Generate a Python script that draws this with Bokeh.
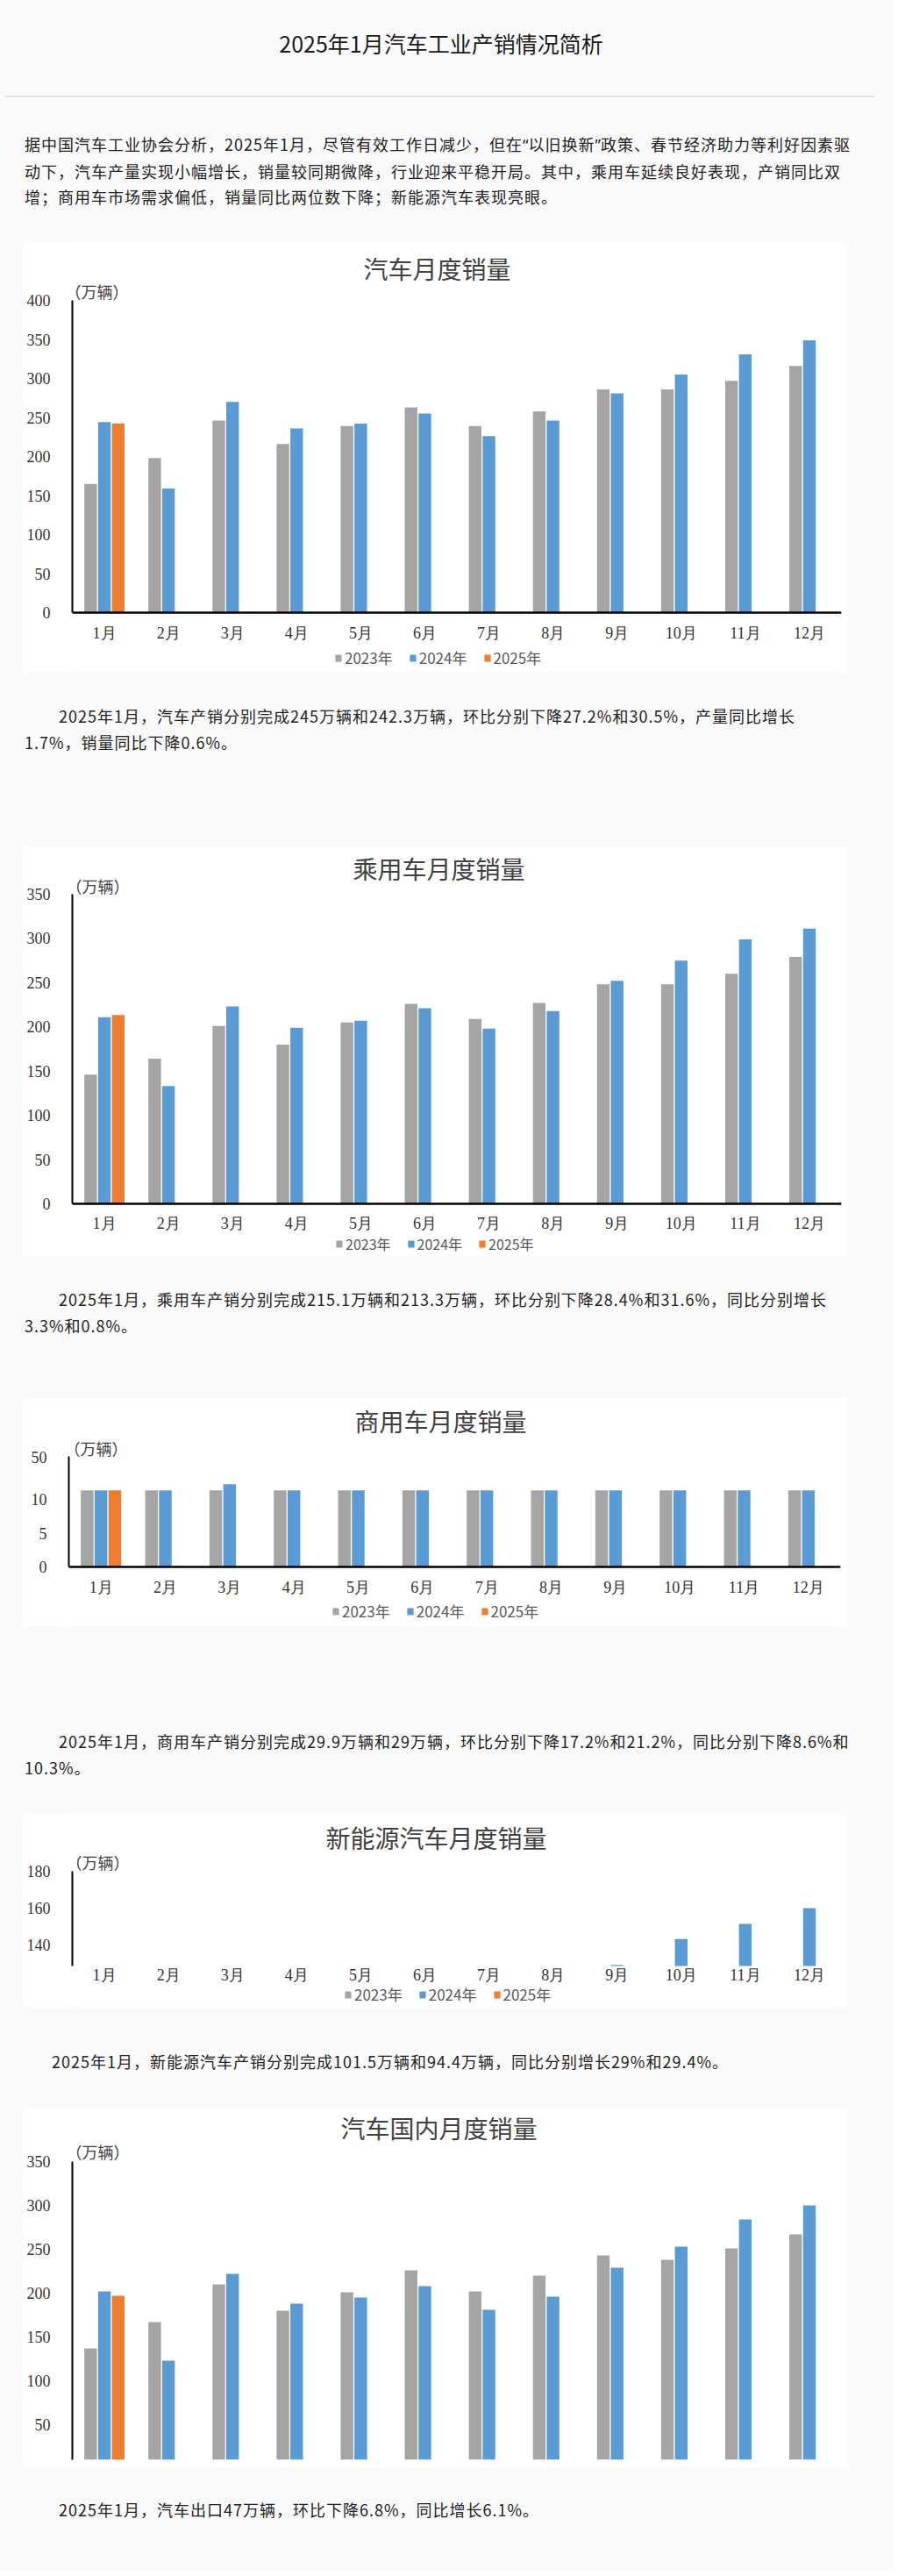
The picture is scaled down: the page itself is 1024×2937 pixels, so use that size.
from bokeh.plotting import figure
from bokeh.models import (ColumnDataSource, FactorRange, Range1d, FixedTicker, Legend,
                          LegendItem, Label, Div, Spacer, BoxAnnotation)
from bokeh.layouts import column, row
from bokeh.transform import dodge
from bokeh.embed import file_html
from bokeh.resources import INLINE

# ---------------- data ----------------
months = ["1月", "2月", "3月", "4月", "5月", "6月", "7月", "8月", "9月", "10月", "11月", "12月"]
years = ["2023年", "2024年", "2025年"]

total_2023 = [165, 198, 246, 216, 239, 263, 239, 258, 286, 286, 297, 316]
total_2024 = [244, 159, 270, 236, 242, 255, 226, 246, 281, 305, 331, 349]
total_2025 = [242.3]

pass_2023 = [146, 164, 201, 180, 205, 226, 209, 227, 248, 248, 260, 279]
pass_2024 = [211, 133, 223, 199, 207, 221, 198, 218, 252, 275, 299, 311]
pass_2025 = [213.3]

# commercial vehicle chart is drawn on a broken axis; values are the drawn heights
comm_2023 = [11.4, 11.4, 11.4, 11.4, 11.4, 11.4, 11.4, 11.4, 11.4, 11.4, 11.4, 11.4]
comm_2024 = [11.4, 11.4, 12.3, 11.4, 11.4, 11.4, 11.4, 11.4, 11.4, 11.4, 11.4, 11.4]
comm_2025 = [11.4]
comm_ticks = [0, 5, 10, 16.35]
comm_tick_labels = {16.35: "50"}

nev_2023 = [40.8, 52.5, 65.3, 63.6, 71.7, 80.6, 78.0, 84.6, 90.4, 95.6, 102.6, 119.1]
nev_2024 = [72.9, 47.7, 88.3, 85.0, 95.5, 104.9, 99.1, 110.0, 129.2, 143.2, 151.4, 160.0]
nev_2025 = [94.4]

dom_2023 = [137, 167, 210, 180, 201, 226, 202, 220, 243, 238, 251, 267]
dom_2024 = [202, 123, 222, 188, 195, 208, 181, 196, 229, 253, 284, 300]
dom_2025 = [197]

title_main = "2025年1月汽车工业产销情况简析"
Q1 = "<span style=\"font-family:'Noto Sans';letter-spacing:0\">“</span>"
Q2 = "<span style=\"font-family:'Noto Sans';letter-spacing:0\">”</span>"
para1 = ["据中国汽车工业协会分析，2025年1月，尽管有效工作日减少，但在" + Q1 + "以旧换新" + Q2 + "政策、春节经济助力等利好因素驱",
         "动下，汽车产量实现小幅增长，销量较同期微降，行业迎来平稳开局。其中，乘用车延续良好表现，产销同比双",
         "增；商用车市场需求偏低，销量同比两位数下降；新能源汽车表现亮眼。"]
para2 = ["2025年1月，汽车产销分别完成245万辆和242.3万辆，环比分别下降27.2%和30.5%，产量同比增长",
         "1.7%，销量同比下降0.6%。"]
para3 = ["2025年1月，乘用车产销分别完成215.1万辆和213.3万辆，环比分别下降28.4%和31.6%，同比分别增长",
         "3.3%和0.8%。"]
para4 = ["2025年1月，商用车产销分别完成29.9万辆和29万辆，环比分别下降17.2%和21.2%，同比分别下降8.6%和",
         "10.3%。"]
para5 = ["2025年1月，新能源汽车产销分别完成101.5万辆和94.4万辆，同比分别增长29%和29.4%。"]
para6 = ["2025年1月，汽车出口47万辆，环比下降6.8%，同比增长6.1%。"]

# ---------------- style ----------------
GRAY, BLUE, ORANGE = "#a5a5a5", "#5b9bd5", "#ed7d31"
PAGE_BG = "#fafafa"
CJK = "Noto Sans CJK SC"
SERIF = "Liberation Serif"
W = 1008


def text_block(lines, height, pad_top, indent=0):
    html = "<br>".join(lines)
    inner = (f'<div style="padding-top:{pad_top}px;padding-left:28px;font-family:\'{CJK}\';'
             f'font-size:18px;letter-spacing:1px;line-height:29.5px;color:#222;white-space:nowrap;'
             f'text-indent:{indent}px;">{html}</div>')
    return Div(text=inner, width=W, height=height, styles={"background-color": PAGE_BG, "margin": "0"})


def bar_chart(title, s23, s24, s25, height, ylo, yhi, top_px, bottom_px, frame_bottom, ticks, lr,
              title_c, unit_c, legend_x, legend_y, legend_font="17px", x_standoff=13,
              overrides=None, show_xaxis_line=True, show_xaxis=True, show_legend=True):
    left, right = lr
    # pixel scale of the value axis; the frame spans the whole card (0 .. frame_bottom)
    scale = (bottom_px - top_px) / (yhi - ylo)
    ystart = ylo - (frame_bottom - bottom_px) / scale
    yend = yhi + top_px / scale
    p = figure(width=941, height=height, x_range=FactorRange(factors=months),
               y_range=Range1d(ystart, yend), output_backend="svg", toolbar_location=None,
               min_border_left=left, min_border_right=right, min_border_top=0,
               min_border_bottom=height - frame_bottom, background_fill_color="white",
               border_fill_color="white", outline_line_color=None)
    rs = []
    for vals, off, col, cats in ((s23, -0.215, GRAY, months), (s24, 0.0, BLUE, months),
                                 (s25, 0.215, ORANGE, months[:1])):
        src = ColumnDataSource(dict(m=cats, v=vals))
        rs.append(p.vbar(x=dodge("m", off, range=p.x_range), top="v", bottom=0, width=0.197,
                         source=src, fill_color=col, line_color=None))
    if frame_bottom > bottom_px and ylo > 0:
        # bars below the axis minimum are hidden, as in the source chart
        cover = BoxAnnotation(top=ylo, fill_color="white", fill_alpha=1.0, line_color=None,
                              level="glyph")
        p.renderers.append(cover)
    p.xgrid.visible = False
    p.ygrid.visible = False

    ya = p.yaxis[0]
    ya.ticker = FixedTicker(ticks=ticks)
    ya.bounds = (ylo, yhi)
    if overrides:
        ya.major_label_overrides = overrides
    ya.axis_line_color = "black"
    ya.axis_line_width = 2
    ya.major_tick_line_color = None
    ya.minor_tick_line_color = None
    ya.major_tick_out = 0
    ya.major_tick_in = 0
    ya.major_label_standoff = 25
    ya.major_label_text_font = SERIF
    ya.major_label_text_font_size = "18px"
    ya.major_label_text_color = "#333333"

    xa = p.xaxis[0]
    if show_xaxis:
        xa.fixed_location = ylo
        xa.axis_line_color = "black" if show_xaxis_line else None
        xa.axis_line_width = 2.5
        xa.major_tick_line_color = None
        xa.minor_tick_line_color = None
        xa.major_tick_out = 0
        xa.major_tick_in = 0
        xa.major_label_standoff = x_standoff
        xa.major_label_text_font = SERIF
        xa.major_label_text_font_size = "18px"
        xa.major_label_text_color = "#333333"
    else:
        xa.visible = False

    p.add_layout(Label(x=title_c[0], y=frame_bottom - title_c[1], x_units="screen", y_units="screen",
                       text=title, text_align="center", text_baseline="middle",
                       text_font=CJK, text_font_size="28px", text_color="#404040"))
    p.add_layout(Label(x=unit_c[0], y=frame_bottom - unit_c[1], x_units="screen", y_units="screen",
                       text="（万辆）", text_align="left", text_baseline="middle",
                       text_font=CJK, text_font_size="18px", text_color="#404040"))
    if show_legend:
        lg = Legend(items=[LegendItem(label=years[i], renderers=[rs[i]]) for i in range(3)],
                    orientation="horizontal", location=(legend_x, legend_y),
                    glyph_width=9, glyph_height=10,
                    label_standoff=3, spacing=18, padding=0, margin=0,
                    border_line_color=None, background_fill_alpha=0,
                    label_text_font=CJK, label_text_font_size=legend_font,
                    label_text_color="#595959", label_height=18)
        p.add_layout(lg, "center")
    return p


def chart_row(p, h):
    return row(Spacer(width=26, height=h, styles={"background-color": PAGE_BG}), p,
               Spacer(width=41, height=h, styles={"background-color": PAGE_BG}))


header = Div(text=(f'<div style="position:relative;width:{W}px;height:106px;">'
                   f'<div style="position:absolute;top:27px;left:0;width:996px;text-align:center;'
                   f'font-family:\'{CJK}\';font-size:25px;line-height:34px;color:#1a1a1a;">{title_main}</div>'
                   f'<div style="position:absolute;top:104px;left:0;width:992px;height:0;'
                   f'border-top:2px solid #e4e4e4;"></div></div>'),
             width=W, height=106, styles={"background-color": PAGE_BG})

c1 = bar_chart("汽车月度销量", total_2023, total_2024, total_2025, 492, 0, 400, 67, 423, 492,
               list(range(0, 401, 50)), (56, 8), (416, 30), (-8, 56), 299, 5)
c2 = bar_chart("乘用车月度销量", pass_2023, pass_2024, pass_2025, 467, 0, 350, 54, 407, 467,
               list(range(0, 351, 50)), (56, 8), (418, 24), (-7, 44), 300, 2,
               legend_font="16px", x_standoff=12)
c3 = bar_chart("商用车月度销量", comm_2023, comm_2024, comm_2025, 262, 0, 16.45, 67, 193, 262,
               comm_ticks, (52, 9), (424, 26), (-5, 57), 300, 6,
               overrides=comm_tick_labels)
c4 = bar_chart("新能源汽车月度销量", nev_2023, nev_2024, nev_2025, 222, 128.6, 180, 66, 174, 222,
               [140, 160, 180], (56, 8), (415, 27), (-7, 55), 310, 3,
               x_standoff=0, show_xaxis_line=False)
c5 = bar_chart("汽车国内月度销量", dom_2023, dom_2024, dom_2025, 409, 10, 350, 60, 400, 400,
               list(range(50, 351, 50)), (56, 8), (418, 21), (-7, 48), 0, 0,
               show_xaxis=False, show_legend=False)

page = column(
    header,
    text_block(para1, 159, 34),
    chart_row(c1, 492),
    text_block(para2, 198, 35, 39),
    chart_row(c2, 467),
    text_block(para3, 161, 35, 39),
    chart_row(c3, 262),
    text_block(para4, 212, 116, 39),
    chart_row(c4, 222),
    text_block(para5, 115, 47, 31),
    chart_row(c5, 409),
    text_block(para6, 118, 34, 39),
    spacing=0,
    styles={"background-color": PAGE_BG},
)

open("out.html", "w").write(file_html(page, INLINE))
